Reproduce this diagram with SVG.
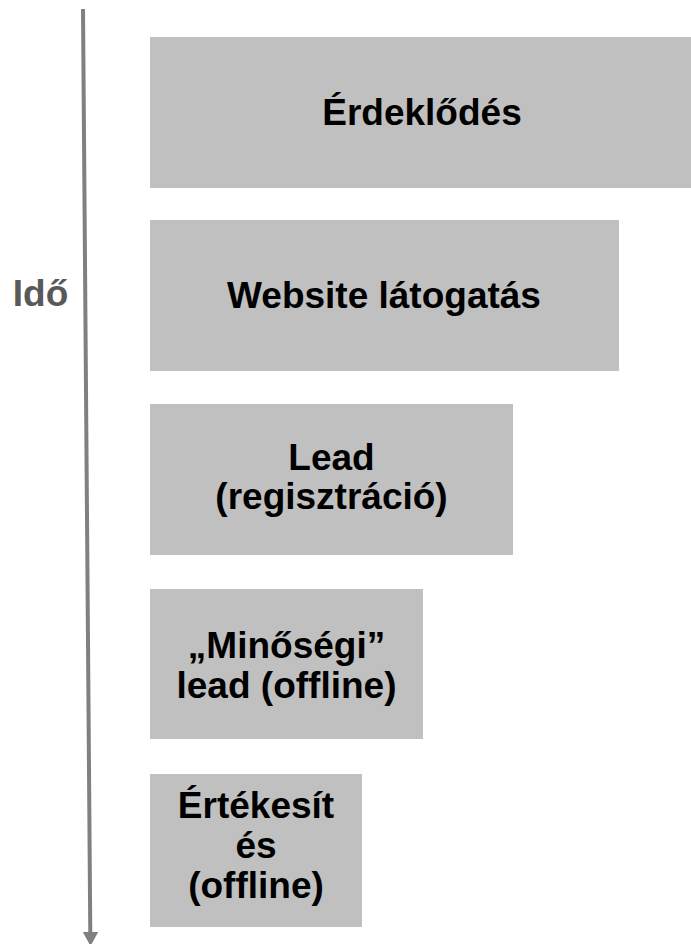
<svg xmlns="http://www.w3.org/2000/svg" width="691" height="944" viewBox="0 0 691 944">
<style>
.box{fill:#c0c0c0;}
.t{font-family:"Liberation Sans",Arial,sans-serif;font-weight:bold;font-size:37px;fill:#000;text-anchor:middle;}
.lbl{font-family:"Liberation Sans",Arial,sans-serif;font-weight:bold;font-size:37px;fill:#595959;text-anchor:middle;}
</style>
<rect width="691" height="944" fill="#fff"/>
<g id="connectors">
<line x1="83" y1="9" x2="90.3" y2="934" stroke="#808080" stroke-width="4"/>
<polygon points="82.8,932 98.2,932 90.5,946" fill="#808080"/>
</g>
<g id="label-ido"><text class="lbl" x="40.5" y="306">Idő</text></g>
<g id="n1"><rect class="box" x="150" y="37" width="541" height="151"/><text class="t" x="422" y="125">Érdeklődés</text></g>
<g id="n2"><rect class="box" x="150" y="220" width="469" height="151"/><text class="t" x="384" y="308">Website látogatás</text></g>
<g id="n3"><rect class="box" x="150" y="404" width="363" height="151"/><text class="t" x="331.5" y="470">Lead</text><text class="t" x="331.5" y="509">(regisztráció)</text></g>
<g id="n4"><rect class="box" x="150" y="589" width="273" height="150"/><text class="t" x="286.5" y="658">„Minőségi”</text><text class="t" x="286.5" y="698">lead (offline)</text></g>
<g id="n5"><rect class="box" x="150" y="774" width="212" height="153"/><text class="t" x="256" y="818">Értékesít</text><text class="t" x="256" y="858">és</text><text class="t" x="256" y="898">(offline)</text></g>
</svg>
